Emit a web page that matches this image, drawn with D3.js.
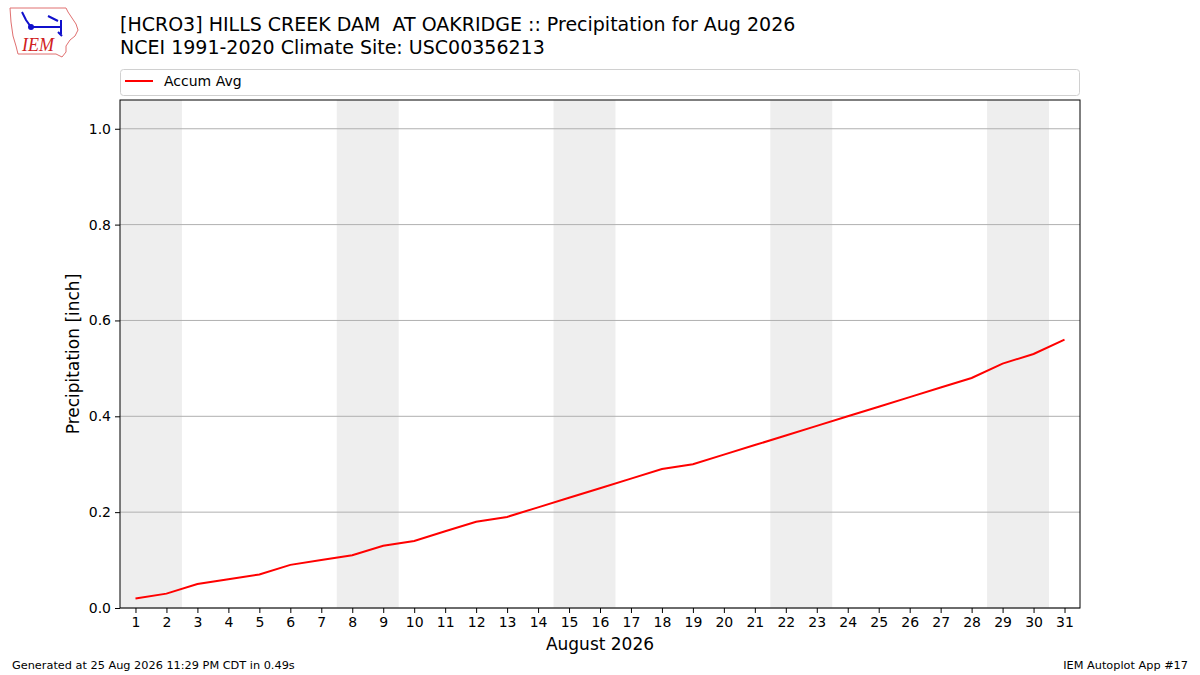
<!DOCTYPE html>
<html>
<head>
<meta charset="utf-8">
<script src="https://cdn.jsdelivr.net/npm/d3@7"></script>
<style>
  body { margin: 0; background: #fff; }
  svg { display: block; font-family: "DejaVu Sans", sans-serif; }
  .title { white-space: pre; }
</style>
</head>
<body>
<div id="chart"></div>
<script>
// daily accumulated climatology, Aug 1..31
var days = d3.range(1, 32);
var accumAvg = [0.02, 0.03, 0.05, 0.06, 0.07, 0.09, 0.10, 0.11, 0.13, 0.14,
                0.16, 0.18, 0.19, 0.21, 0.23, 0.25, 0.27, 0.29, 0.30, 0.32,
                0.34, 0.36, 0.38, 0.40, 0.42, 0.44, 0.46, 0.48, 0.51, 0.53, 0.56];
var weekendStarts = [1, 8, 15, 22, 29];
var yTicks = [0.0, 0.2, 0.4, 0.6, 0.8, 1.0];

var titleLines = ["[HCRO3] HILLS CREEK DAM  AT OAKRIDGE :: Precipitation for Aug 2026",
                  "NCEI 1991-2020 Climate Site: USC00356213"];
var footerLeft = "Generated at 25 Aug 2026 11:29 PM CDT in 0.49s";
var footerRight = "IEM Autoplot App #17";

var width = 1200, height = 675;
var plot = {left: 120, right: 1080, top: 100, bottom: 608};

var svg = d3.select("#chart").append("svg")
    .attr("width", width)
    .attr("height", height);

var x = d3.scaleLinear().domain([0.5, 31.5]).range([plot.left, plot.right]);
var y = d3.scaleLinear().domain([0, 1.06]).range([plot.bottom, plot.top]);

// weekend shading
svg.selectAll(".weekend")
    .data(weekendStarts)
    .enter()
    .append("rect")
    .attr("class", "weekend")
    .attr("x", function(d) { return x(d - 0.5); })
    .attr("y", plot.top)
    .attr("width", function(d) { return x(d + 1.5) - x(d - 0.5); })
    .attr("height", plot.bottom - plot.top)
    .style("fill", "#eeeeee");

// grid
svg.selectAll(".grid")
    .data(yTicks)
    .enter()
    .append("line")
    .attr("class", "grid")
    .attr("x1", plot.left)
    .attr("x2", plot.right)
    .attr("y1", function(d) { return y(d); })
    .attr("y2", function(d) { return y(d); })
    .style("stroke", "#b0b0b0")
    .style("stroke-width", 1);

// line
var line = d3.line()
    .x(function(d, i) { return x(days[i]); })
    .y(function(d) { return y(d); });

svg.append("path")
    .datum(accumAvg)
    .attr("d", line)
    .style("fill", "none")
    .style("stroke", "#ff0000")
    .style("stroke-width", 2);

// frame
svg.append("rect")
    .attr("x", plot.left)
    .attr("y", plot.top)
    .attr("width", plot.right - plot.left)
    .attr("height", plot.bottom - plot.top)
    .style("fill", "none")
    .style("stroke", "#000")
    .style("stroke-width", 1);

// axes
var xAxis = svg.append("g")
    .attr("transform", "translate(0," + plot.bottom + ")")
    .call(d3.axisBottom(x).tickValues(days).tickFormat(d3.format("d")).tickSize(5).tickPadding(4));

var yAxis = svg.append("g")
    .attr("transform", "translate(" + plot.left + ",0)")
    .call(d3.axisLeft(y).tickValues(yTicks).tickFormat(d3.format(".1f")).tickSize(5).tickPadding(4));

[xAxis, yAxis].forEach(function(g) {
    g.select(".domain").remove();
    g.selectAll("text")
        .attr("font-family", "DejaVu Sans, sans-serif")
        .attr("font-size", "14px")
        .attr("fill", "#000");
    g.selectAll("line").style("stroke", "#000");
});

// axis labels
svg.append("text")
    .text("August 2026")
    .attr("x", (plot.left + plot.right) / 2)
    .attr("y", 650)
    .attr("text-anchor", "middle")
    .attr("font-size", "17px");

svg.append("text")
    .text("Precipitation [inch]")
    .attr("transform", "translate(79," + ((plot.top + plot.bottom) / 2) + ") rotate(-90)")
    .attr("text-anchor", "middle")
    .attr("font-size", "17px");

// title
svg.selectAll(".title")
    .data(titleLines)
    .enter()
    .append("text")
    .attr("class", "title")
    .attr("xml:space", "preserve")
    .text(function(d) { return d; })
    .attr("x", 120)
    .attr("y", function(d, i) { return 31 + i * 23; })
    .attr("font-size", "19px");

// legend
svg.append("rect")
    .attr("x", 120.5)
    .attr("y", 69.5)
    .attr("width", 959)
    .attr("height", 26)
    .attr("rx", 3)
    .style("fill", "#fff")
    .style("stroke", "#d0d0d0");

svg.append("line")
    .attr("x1", 125).attr("x2", 153)
    .attr("y1", 81).attr("y2", 81)
    .style("stroke", "#ff0000")
    .style("stroke-width", 2);

svg.append("text")
    .text("Accum Avg")
    .attr("x", 164)
    .attr("y", 86)
    .attr("font-size", "14px");

// footer
svg.append("text")
    .text(footerLeft)
    .attr("x", 12)
    .attr("y", 669)
    .attr("font-size", "11.3px");

svg.append("text")
    .text(footerRight)
    .attr("x", 1188)
    .attr("y", 669)
    .attr("text-anchor", "end")
    .attr("font-size", "11.3px");

// IEM logo (rough)
var logo = svg.append("g");
logo.append("path")
    .attr("d", "M10,8 L66,8 L68,12 L72,18 L76,24 L78,30 L75,36 L70,40 L66,46 L66,52 L62,57 L56,54 L18,54 L16,46 L13,36 L11,22 Z")
    .style("fill", "none")
    .style("stroke", "#e07070")
    .style("stroke-width", 1);
logo.append("path")
    .attr("d", "M31,27 L61,27 M61,20 L61,34 M48,16 L58,21 M22,12 L26,20 L31,27 M58,32 L62,36")
    .style("fill", "none")
    .style("stroke", "#1010cc")
    .style("stroke-width", 2);
logo.append("circle")
    .attr("cx", 31).attr("cy", 27).attr("r", 3)
    .style("fill", "#1010cc");
logo.append("text")
    .text("IEM")
    .attr("x", 22)
    .attr("y", 51)
    .attr("font-family", "Liberation Serif, serif")
    .attr("font-style", "italic")
    .attr("font-size", "18px")
    .attr("fill", "#d02020");
</script>
</body>
</html>
